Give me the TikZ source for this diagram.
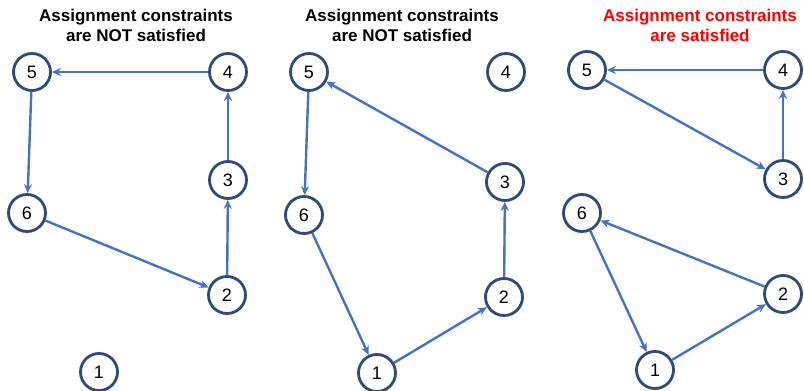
\documentclass[tikz,border=0pt]{standalone}
\usepackage{fontspec}
\setmainfont{Liberation Sans}
\usetikzlibrary{arrows.meta}

\definecolor{ringblue}{RGB}{47,75,125}
\definecolor{edgeblue}{RGB}{68,114,196}

\tikzset{
	vertex/.style={circle, draw=ringblue, line width=2.8pt, fill=white,
		minimum size=37pt, inner sep=0pt, font=\fontsize{18}{18}\selectfont},
	edge/.style={-{Stealth[length=9pt,width=8pt]}, draw=edgeblue, line width=2.4pt},
	title/.style={align=center, font=\fontsize{17}{20}\selectfont\bfseries}
}

\begin{document}
\begin{tikzpicture}[x=1pt, y=-1pt]

	% ---- frame

	\useasboundingbox (0,0) rectangle (804,391);

	% ---- titles

	\node[title] (T1) at (136,25) {Assignment constraints\\are NOT satisfied};
	\node[title] (T2) at (402,25) {Assignment constraints\\are NOT satisfied};
	\node[title, text=red] (T3) at (700,25) {Assignment constraints\\are satisfied};

	% ---- first panel

	\node[vertex] (A5) at (32,72) {5};
	\node[vertex] (A4) at (228,72) {4};
	\node[vertex] (A3) at (228,180) {3};
	\node[vertex] (A6) at (27,213) {6};
	\node[vertex] (A2) at (227,295) {2};
	\node[vertex] (A1) at (99,372) {1};

	\draw[edge] (A4) -- (A5);
	\draw[edge] (A5) -- (A6);
	\draw[edge] (A6) -- (A2);
	\draw[edge] (A2) -- (A3);
	\draw[edge] (A3) -- (A4);

	% ---- second panel

	\node[vertex] (B5) at (309,72) {5};
	\node[vertex] (B4) at (506,72) {4};
	\node[vertex] (B3) at (505,182) {3};
	\node[vertex] (B6) at (304,215) {6};
	\node[vertex] (B2) at (504,297) {2};
	\node[vertex] (B1) at (377,373) {1};

	\draw[edge] (B3) -- (B5);
	\draw[edge] (B5) -- (B6);
	\draw[edge] (B6) -- (B1);
	\draw[edge] (B1) -- (B2);
	\draw[edge] (B2) -- (B3);

	% ---- third panel

	\node[vertex] (C5) at (587,70) {5};
	\node[vertex] (C4) at (783,70) {4};
	\node[vertex] (C3) at (783,179) {3};
	\node[vertex] (C6) at (582,213) {6};
	\node[vertex] (C2) at (783,294) {2};
	\node[vertex] (C1) at (655,370) {1};

	\draw[edge] (C4) -- (C5);
	\draw[edge] (C5) -- (C3);
	\draw[edge] (C3) -- (C4);
	\draw[edge] (C2) -- (C6);
	\draw[edge] (C6) -- (C1);
	\draw[edge] (C1) -- (C2);

\end{tikzpicture}
\end{document}
